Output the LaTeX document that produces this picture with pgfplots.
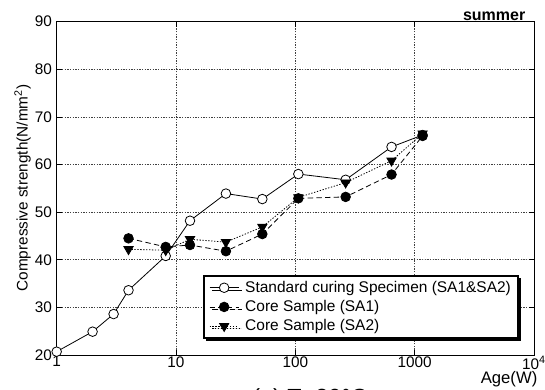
\documentclass[border=0pt]{standalone}
\usepackage{pgfplots}
\pgfplotsset{compat=1.18}
\usepackage{fontspec}
\setmainfont{Liberation Sans}
\usetikzlibrary{shadows}
\begin{document}
\begin{tikzpicture}[x=1pt,y=1pt]
\useasboundingbox (0,0) rectangle (408.75,291.75);
\begin{axis}[
  at={(42.5pt,25.5pt)}, anchor=south west,
  scale only axis, width=358pt, height=250pt,
  xmode=log, xmin=1, xmax=10000, ymin=20, ymax=90,
  xtick={1,10,100,1000,10000},
  xticklabels={1,10,100,1000,10\textsuperscript{4}},
  ytick={20,30,...,90},
  xminorticks=false,
  grid=major,
  major grid style={black!75, dash pattern=on 1pt off 1pt, line width=0.5pt},
  tick align=inside, major tick length=4pt,
  tick style={black, line width=0.5pt},
  axis line style={black, line width=0.6pt},
  /pgf/number format/assume math mode=true,
  tick label style={font=\fontsize{11.5}{13}\selectfont},
  xticklabel style={yshift=2.5pt},
  clip=false,
  legend cell align=left,
  legend style={at={(axis description cs:0.3065,0.240)}, anchor=north west,
    draw=black, line width=1.2pt, fill=white,
    drop shadow={shadow xshift=2pt, shadow yshift=-2pt, fill=black, opacity=1},
    font=\fontsize{11.6}{13.5}\selectfont,
    inner xsep=4pt, inner ysep=2pt, row sep=0.5pt,
    nodes={inner xsep=1.5pt},
    /tikz/every odd column/.append style={column sep=3pt},
  },
  legend image code/.code={%
    \draw[#1, line width=0.6pt, mark repeat=2, mark phase=2] plot coordinates {(0pt,0pt) (11pt,0pt) (22pt,0pt)};},
]
\addplot[black, line width=0.6pt, mark=*, mark size=3.6pt, mark options={solid, fill=white, line width=0.6pt}]
  coordinates {(1,20.7) (2,24.9) (3,28.6) (4,33.6) (8.2,40.8) (13.1,48.2) (26.2,53.9) (52.9,52.75) (106,58.0) (264,56.8) (640,63.7) (1165,66.2)};
\addlegendentry{Standard curing Specimen (SA1\&SA2)}
\addplot[black, line width=0.6pt, dash pattern=on 4pt off 2.5pt, mark=*, mark size=3.6pt, mark options={solid, fill=black}]
  coordinates {(4,44.5) (8.2,42.7) (13.1,43.1) (26.2,41.8) (52.9,45.4) (106,52.9) (264,53.2) (640,57.9) (1165,66.0)};
\addlegendentry{Core Sample (SA1)}
\addplot[black, line width=0.6pt, dash pattern=on 1pt off 1.2pt, mark=triangle*, mark size=4pt, mark options={solid, fill=black, rotate=180}]
  coordinates {(4,42.2) (8.2,42.0) (13.1,44.3) (26.2,43.7) (52.9,46.9) (106,53.1) (264,56.2) (640,60.8) (1165,66.5)};
\addlegendentry{Core Sample (SA2)}
\node[anchor=base east, font=\fontsize{12}{14}\selectfont\bfseries] at (axis description cs:0.9916,1.005) {summer};
\node[anchor=base east, font=\fontsize{12.5}{14}\selectfont] at (axis description cs:1.0168,-0.084) {Age(W)};
\node[anchor=base, font=\fontsize{17.5}{20}\selectfont] at (axis description cs:0.5307,-0.15) {(a) T=20\textdegree C};
\end{axis}
\node[rotate=90, font=\fontsize{11.5}{13}\selectfont] at (17,150.75) {Compressive strength(N/mm\textsuperscript{2})};
\end{tikzpicture}
\end{document}
